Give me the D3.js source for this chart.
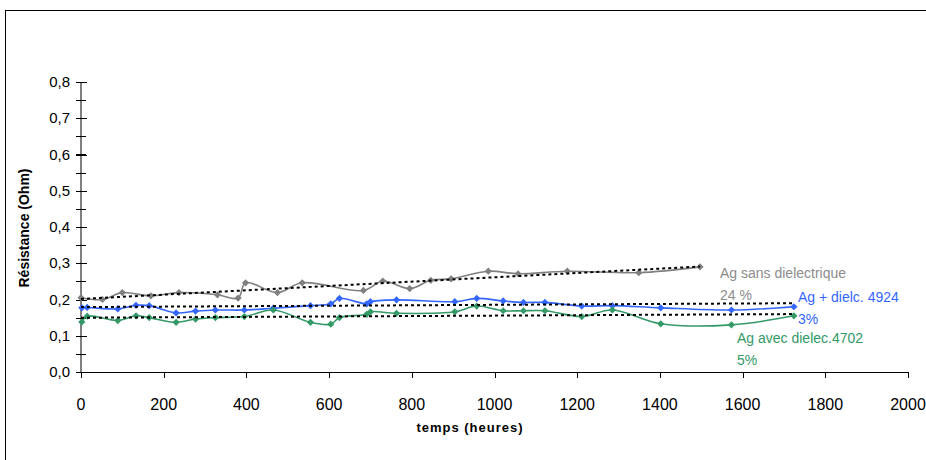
<!DOCTYPE html>
<html><head><meta charset="utf-8">
<script src="https://cdn.jsdelivr.net/npm/d3@7"></script>
<style>body{margin:0;background:#fff}svg{display:block}</style>
</head><body>
<svg id="c" width="926" height="460"></svg>
<script>
// ---- data ----
const grayT = [0,52,100,169,237,330,380,398,475,535,683,730,795,846,895,985,1057,1176,1349,1497];
const grayV = [0.205,0.200,0.219,0.210,0.219,0.213,0.204,0.246,0.219,0.246,0.225,0.251,0.230,0.253,0.257,0.278,0.271,0.278,0.274,0.290];
const blueT = [2,15,89,133,165,230,277,325,395,465,555,604,625,691,700,763,904,957,1021,1070,1122,1211,1285,1402,1573,1724];
const blueV = [0.177,0.178,0.174,0.184,0.183,0.163,0.168,0.171,0.171,0.176,0.183,0.188,0.203,0.188,0.194,0.199,0.194,0.203,0.196,0.192,0.192,0.182,0.183,0.177,0.171,0.180];
const greenT = [2,15,89,133,165,230,277,325,395,465,555,604,625,691,700,763,904,957,1021,1070,1122,1211,1285,1402,1573,1724];
const greenV = [0.138,0.154,0.142,0.155,0.150,0.137,0.146,0.150,0.153,0.171,0.137,0.132,0.150,0.159,0.166,0.162,0.166,0.182,0.169,0.169,0.169,0.153,0.171,0.133,0.130,0.155];
const xTicks = [0,200,400,600,800,1000,1200,1400,1600,1800,2000];
const yTicks = [0,0.1,0.2,0.3,0.4,0.5,0.6,0.7,0.8];
const seriesNames = ["Ag sans dielectrique","Ag + dielc. 4924","Ag avec dielec.4702"];
const seriesPct = ["24 %","3%","5%"];

const svg = d3.select("#c");
const x = d3.scaleLinear().domain([0,2000]).range([81,908]);
const y = d3.scaleLinear().domain([0,0.8]).range([372,82]);

// frame
svg.append("rect").attr("x",5.5).attr("y",10.5).attr("width",940).attr("height",470)
  .attr("fill","none").attr("stroke","#000").attr("stroke-width",1);

// y axis
svg.append("line").attr("x1",x(0)).attr("x2",x(0)).attr("y1",y(0.8)).attr("y2",y(0)).attr("stroke","#000");
const minor = d3.range(0,16).map(i=>i*0.05+0.05).filter(v=>v<0.8);
svg.selectAll(".ymin").data(minor).enter().append("line")
  .attr("x1",x(0)-5).attr("x2",x(0)+5).attr("y1",d=>Math.round(y(d))+0.5).attr("y2",d=>Math.round(y(d))+0.5)
  .attr("stroke","#000");
svg.selectAll(".ymaj").data(yTicks).enter().append("line")
  .attr("x1",x(0)-5).attr("x2",x(0)+6).attr("y1",d=>Math.round(y(d))+0.5).attr("y2",d=>Math.round(y(d))+0.5)
  .attr("stroke","#000");
svg.selectAll(".ylab").data(yTicks).enter().append("text")
  .attr("x",70).attr("y",d=>y(d)+5).attr("text-anchor","end")
  .attr("font-family","Liberation Sans, Arial").attr("font-size",15)
  .text(d=>d.toFixed(1).replace(".",","));

// x axis
svg.append("line").attr("x1",x(0)).attr("x2",x(2000)).attr("y1",Math.round(y(0))+0.5).attr("y2",Math.round(y(0))+0.5).attr("stroke","#000");
svg.selectAll(".xt").data(xTicks).enter().append("line")
  .attr("x1",d=>Math.round(x(d))+0.5).attr("x2",d=>Math.round(x(d))+0.5)
  .attr("y1",y(0)).attr("y2",y(0)+6).attr("stroke","#000");
svg.selectAll(".xlab").data(xTicks).enter().append("text")
  .attr("x",d=>x(d)).attr("y",410).attr("text-anchor","middle")
  .attr("font-family","Liberation Sans Narrow, Liberation Sans, Arial").attr("font-size",16)
  .text(d=>d);

// axis titles
svg.append("text").attr("x",470).attr("y",432).attr("text-anchor","middle")
  .attr("font-family","Liberation Sans, Arial").attr("font-weight","bold").attr("font-size",13)
  .attr("letter-spacing",1).text("temps (heures)");
svg.append("text").attr("transform","translate(29,228) rotate(-90)").attr("text-anchor","middle")
  .attr("font-family","Liberation Sans, Arial").attr("font-weight","bold").attr("font-size",14)
  .text("Résistance (Ohm)");

// series
const series = [
  {t:grayT, v:grayV, color:"#808080"},
  {t:blueT, v:blueV, color:"#3366ff"},
  {t:greenT, v:greenV, color:"#339966"}
];
const line = d3.line().x(d=>x(d[0])).y(d=>y(d[1])).curve(d3.curveCatmullRom.alpha(0.5));
function regress(t,v){
  const mt=d3.mean(t), mv=d3.mean(v);
  let num=0,den=0; t.forEach((ti,i)=>{num+=(ti-mt)*(v[i]-mv);den+=(ti-mt)*(ti-mt);});
  const b=num/den; return {a:mv-b*mt,b};
}
series.forEach(s=>{
  const pts = s.t.map((t,i)=>[t,s.v[i]]);
  svg.append("path").attr("d",line(pts)).attr("fill","none").attr("stroke",s.color).attr("stroke-width",1.6);
  svg.selectAll(null).data(pts).enter().append("path")
    .attr("d",d3.symbol(d3.symbolSquare,26)())
    .attr("transform",d=>`translate(${x(d[0])},${y(d[1])}) rotate(45)`)
    .attr("fill",s.color);
});
// trend lines
series.forEach(s=>{
  const r = regress(s.t,s.v);
  const t0 = 0, t1 = d3.max(s.t);
  svg.append("line").attr("x1",x(t0)).attr("y1",y(r.a+r.b*t0)).attr("x2",x(t1)).attr("y2",y(r.a+r.b*t1))
    .attr("stroke","#000").attr("stroke-width",2).attr("stroke-dasharray","3,3");
});

// labels
const labs = [
  {x:720,y:278,c:"#8c8c8c"},
  {x:798,y:302,c:"#3366ff"},
  {x:737,y:343,c:"#339966"}
];
labs.forEach((l,i)=>{
  svg.append("text").attr("x",l.x).attr("y",l.y).attr("fill",l.c)
    .attr("font-family","Liberation Sans, Arial").attr("font-size",14).text(seriesNames[i]);
  svg.append("text").attr("x",l.x).attr("y",l.y+22).attr("fill",l.c)
    .attr("font-family","Liberation Sans, Arial").attr("font-size",14).text(seriesPct[i]);
});
</script>
</body></html>
